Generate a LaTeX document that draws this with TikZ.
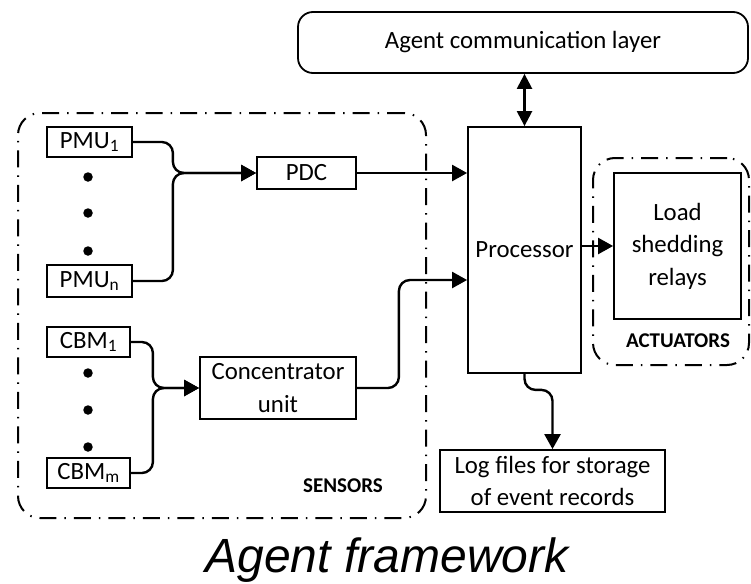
\documentclass[tikz,border=0pt]{standalone}
\usepackage{fontspec}
\setmainfont{Carlito}
\newfontfamily\titlefont{Liberation Sans}
\usetikzlibrary{arrows.meta}

\begin{document}
\begin{tikzpicture}[x=1pt,y=-1pt,
  box/.style={draw, line width=1.8pt, inner sep=0pt, align=center,
              font=\fontsize{24.8}{32.5}\selectfont},
  link/.style={line width=2.4pt, rounded corners=11pt},
  tip/.style={-{Triangle[length=15pt,width=16pt]}},
  group/.style={draw, line width=2pt, rounded corners=22pt,
                dash pattern=on 17pt off 8pt on 1.5pt off 8pt},
  dot/.style={circle, fill, inner sep=0pt, minimum size=9.5pt},
  tag/.style={font=\fontsize{21}{24}\selectfont\bfseries}]
\useasboundingbox (0,0) rectangle (751,583);

% dashed groupings
\node[group, minimum width=408pt, minimum height=405pt] (sensors) at (222,315.5) {};
\node[group, minimum width=156pt, minimum height=207pt] (actuators) at (671,261.5) {};

% communication layer
\node[box, rounded corners=15pt, minimum width=450pt, minimum height=61pt] (comm) at (523,42.5) {Agent communication layer};

% sensor blocks
\node[box, minimum width=85pt, minimum height=30pt] (pmu1) at (89.5,142) {PMU\textsubscript{1}};
\node[box, minimum width=85pt, minimum height=32pt] (pmun) at (89.5,281) {PMU\textsubscript{n}};
\node[box, minimum width=83pt, minimum height=30pt] (cbm1) at (88.5,342) {CBM\textsubscript{1}};
\node[box, minimum width=83pt, minimum height=30pt] (cbmm) at (88.5,473) {CBM\textsubscript{m}};
\node[box, minimum width=99pt, minimum height=32pt] (pdc) at (306.5,173) {PDC};
\node[box, minimum width=156pt, minimum height=62pt] (conc) at (278,388) {Concentrator\\unit};

% processing and outputs
\node[box, minimum width=113pt, minimum height=246pt] (proc) at (524.5,250) {Processor};
\node[box, minimum width=127pt, minimum height=146pt] (load) at (677.5,246) {Load\\shedding\\relays};
\node[box, minimum width=225pt, minimum height=62pt] (log) at (552.5,481) {Log files for storage\\of event records};

% ellipsis dots
\node[dot] (pd1) at (88,177) {};
\node[dot] (pd2) at (88,213) {};
\node[dot] (pd3) at (88,251) {};
\node[dot] (cd1) at (88,373) {};
\node[dot] (cd2) at (88,410) {};
\node[dot] (cd3) at (88,447) {};

% group labels
\node[tag] (senslbl) at (343,486) {SENSORS};
\node[tag] (actlbl) at (678,341) {ACTUATORS};

% connectors
\draw[link,tip] (pmu1.east) -- ++(40,0) |- (pdc.west);
\draw[link,tip] (pmun.east) -- ++(40,0) |- (pdc.west);
\draw[link,tip] (cbm1.east) -- ++(22,0) |- (conc.west);
\draw[link,tip] (cbmm.east) -- ++(22,0) |- (conc.west);
\draw[link,tip] (pdc.east) -- (pdc.east -| proc.west);
\draw[link,tip] (conc.east) -- ++(42,0) |- ([yshift=-30pt]proc.west);
\draw[link,tip] (proc.east |- load.west) -- (load.west);
\draw[link,tip] (proc.south) -- ++(0,16) -| (log.north);
\draw[link,{Triangle[length=15pt,width=15pt]}-{Triangle[length=15pt,width=15pt]}]
  (proc.north) -- (proc.north |- comm.south);

% caption
\node[font=\titlefont\itshape\fontsize{48}{56}\selectfont, anchor=base] (title) at (387,572) {Agent framework};
\end{tikzpicture}
\end{document}
